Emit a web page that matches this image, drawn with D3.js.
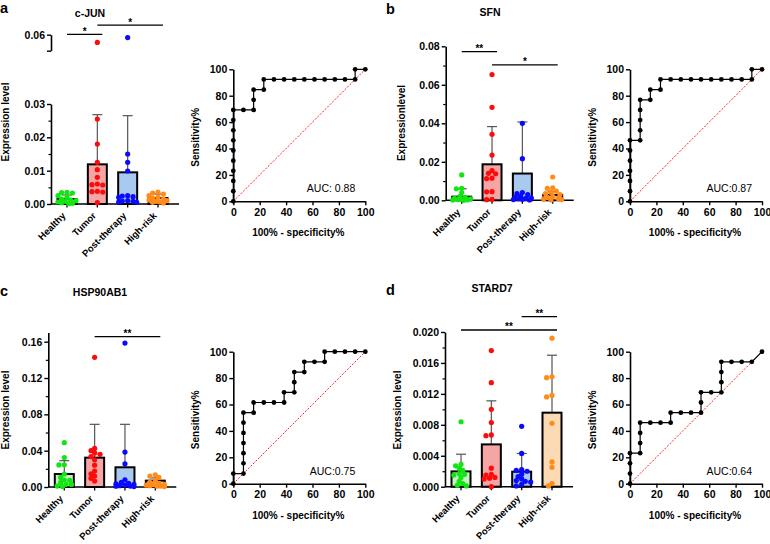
<!DOCTYPE html>
<html>
<head>
<meta charset="utf-8">
<script src="https://cdn.jsdelivr.net/npm/d3@7"></script>
<style>
  body { margin: 0; background: #fff; }
  svg { font-family: "Liberation Sans", Arial, Helvetica, sans-serif; }
  .tick text { font-weight: bold; }
</style>
</head>
<body>
<svg id="chart" width="770" height="544"></svg>
<script>
'use strict';

var groups = ['Healthy', 'Tumor', 'Post-therapy', 'High-risk'];
var dotColors = ['#12e612', '#ff0a0a', '#0a0aff', '#ff8c1a'];
var barColors = ['#c4f4c4', '#f6a5a5', '#a8c9f0', '#fcdab4'];

// a - c-JUN
var junHealthy = [0.0035, 0.0034, 0.0033, 0.0025, 0.002, 0.0015, 0.0012, 0.001, 0.0008, 0.0006, 0.0004, 0.0002, 0.0001];
var junTumor = [0.0576, 0.0255, 0.018, 0.0125, 0.0103, 0.008, 0.006, 0.0058, 0.0057, 0.0038, 0.0037, 0.0036, 0.0004];
var junPost = [0.0591, 0.015, 0.0125, 0.0099, 0.0025, 0.0024, 0.0022, 0.002, 0.001, 0.0009, 0.0008, 0.0006, 0.0005];
var junHigh = [0.0036, 0.0033, 0.003, 0.0025, 0.002, 0.0018, 0.0015, 0.0012, 0.001, 0.0008, 0.0006, 0.0005, 0.0003];
var junMean = [0.0015, 0.0119, 0.0095, 0.0018];
var junSdTop = [0.0027, 0.0268, 0.0265, 0.003];

// b - SFN
var sfnHealthy = [0.0132, 0.0062, 0.006, 0.004, 0.002, 0.0015, 0.001, 0.0008, 0.0005, 0.0003, 0.0002, 0.0001, 0];
var sfnTumor = [0.0653, 0.0483, 0.0343, 0.0235, 0.0154, 0.014, 0.0138, 0.0115, 0.0113, 0.0045, 0.0044, 0.0005, 0.0003];
var sfnPost = [0.040, 0.0216, 0.004, 0.0035, 0.003, 0.002, 0.0015, 0.0012, 0.001, 0.0008, 0.0006, 0.0004, 0.0002];
var sfnHigh = [0.0121, 0.0065, 0.0062, 0.0048, 0.0042, 0.0035, 0.003, 0.002, 0.0015, 0.001, 0.0007, 0.0004, 0.0002];
var sfnMean = [0.0019, 0.0187, 0.0139, 0.0028];
var sfnSdTop = [0.006, 0.0383, 0.0407, 0.0045];

// c - HSP90AB1
var hspHealthy = [0.0488, 0.0325, 0.0245, 0.0243, 0.0143, 0.0105, 0.0077, 0.0073, 0.005, 0.003, 0.0028, 0.001, 0.0005];
var hspTumor = [0.1428, 0.0425, 0.040, 0.0375, 0.036, 0.0335, 0.030, 0.024, 0.0175, 0.0145, 0.012, 0.0095, 0.0065];
var hspPost = [0.1585, 0.0385, 0.0255, 0.008, 0.005, 0.004, 0.0035, 0.003, 0.002, 0.0015, 0.001, 0.0008, 0.0005];
var hspHigh = [0.0135, 0.012, 0.0105, 0.007, 0.005, 0.004, 0.003, 0.0025, 0.002, 0.0015, 0.001, 0.0008, 0.0005];
var hspMean = [0.0143, 0.0323, 0.0217, 0.007];
var hspSdTop = [0.029, 0.069, 0.069, 0.010];

// d - STARD7
var stdHealthy = [0.0084, 0.0029, 0.0027, 0.0024, 0.0021, 0.0017, 0.0016, 0.0015, 0.0012, 0.0007, 0.0004, 0.0002, 0.0001];
var stdTumor = [0.0176, 0.01345, 0.0100, 0.0083, 0.0067, 0.0066, 0.0024, 0.0016, 0.0015, 0.0012, 0.0011, 0.001, 0.0];
var stdPost = [0.0078, 0.0043, 0.0022, 0.0021, 0.0020, 0.0016, 0.0013, 0.001, 0.0008, 0.0007, 0.0006, 0.0003, 0.0001];
var stdHigh = [0.0192, 0.0142, 0.0141, 0.0118, 0.0116, 0.0082, 0.0032, 0.0025, 0.0004, 0.0001];
var stdMean = [0.00198, 0.00547, 0.00194, 0.00957];
var stdSdTop = [0.0042, 0.0111, 0.0043, 0.017];

// significance lines: [from, to, y value, label]
var junSig = [['Healthy', 'Tumor', 0.0601, '*'], ['Tumor', 'High-risk', 0.0630, '*']];
var sfnSig = [['Healthy', 'Tumor', 0.0772, '**'], ['Tumor', 'High-risk', 0.0704, '*']];
var hspSig = [['Tumor', 'High-risk', 0.1655, '**']];
var stdSig = [['Healthy', 'High-risk', 0.02026, '**'], ['Post-therapy', 'High-risk', 0.02198, '**']];

// ROC curves (100% - specificity%, sensitivity%)
var rocJunX = [0, 0, 0, 0, 0, 0, 0, 0, 0, 0, 7.7, 15.4, 15.4, 15.4, 23.1, 23.1, 30.8, 38.5, 46.2, 53.8, 61.5, 69.2, 76.9, 84.6, 92.3, 92.3, 100];
var rocJunY = [0, 7.7, 15.4, 23.1, 30.8, 38.5, 46.2, 53.8, 61.5, 69.2, 69.2, 69.2, 76.9, 84.6, 84.6, 92.3, 92.3, 92.3, 92.3, 92.3, 92.3, 92.3, 92.3, 92.3, 92.3, 100, 100];
var rocSfnX = [0, 0, 0, 0, 0, 0, 0, 7.7, 7.7, 7.7, 7.7, 7.7, 15.4, 15.4, 23.1, 23.1, 30.8, 38.5, 46.2, 53.8, 61.5, 69.2, 76.9, 84.6, 92.3, 92.3, 100];
var rocSfnY = [0, 7.7, 15.4, 23.1, 30.8, 38.5, 46.2, 46.2, 53.8, 61.5, 69.2, 76.9, 76.9, 84.6, 84.6, 92.3, 92.3, 92.3, 92.3, 92.3, 92.3, 92.3, 92.3, 92.3, 92.3, 100, 100];
var rocHspX = [0, 0, 7.7, 7.7, 7.7, 7.7, 7.7, 7.7, 7.7, 15.4, 15.4, 23.1, 30.8, 38.5, 38.5, 46.2, 46.2, 46.2, 53.8, 53.8, 61.5, 69.2, 69.2, 76.9, 84.6, 92.3, 100];
var rocHspY = [0, 7.7, 7.7, 15.4, 23.1, 30.8, 38.5, 46.2, 53.8, 53.8, 61.5, 61.5, 61.5, 61.5, 69.2, 69.2, 76.9, 84.6, 84.6, 92.3, 92.3, 92.3, 100, 100, 100, 100, 100];
var rocStdX = [0, 0, 0, 0, 7.7, 7.7, 7.7, 7.7, 15.4, 23.1, 30.8, 30.8, 38.5, 46.2, 53.8, 53.8, 53.8, 61.5, 69.2, 69.2, 69.2, 69.2, 76.9, 84.6, 92.3, 100];
var rocStdY = [0, 7.7, 15.4, 23.1, 23.1, 30.8, 38.5, 46.2, 46.2, 46.2, 46.2, 53.8, 53.8, 53.8, 53.8, 61.5, 69.2, 69.2, 69.2, 76.9, 84.6, 92.3, 92.3, 92.3, 92.3, 100];

var svg = d3.select('#chart');

// simple beeswarm: keep dots within +/- 9px of the category, allow some overlap
function swarm(vals, y, cx, r) {
    var placed = [];
    var offs = [0];
    for (var k = 1; k <= 5; k++) { offs.push(-k * 1.8, k * 1.8); }
    var pts = vals.map(function (v) { return { v: v, py: y(v) }; })
        .sort(function (a, b) { return a.py - b.py; });
    pts.forEach(function (p) {
        var best = 0, bestD = -1;
        for (var i = 0; i < offs.length; i++) {
            var md = Infinity;
            placed.forEach(function (q) {
                md = Math.min(md, Math.hypot(q.px - (cx + offs[i]), q.py - p.py));
            });
            if (md >= 1.6 * r) { best = offs[i]; bestD = md; break; }
            if (md > bestD) { bestD = md; best = offs[i]; }
        }
        p.px = cx + best;
        placed.push(p);
    });
    return placed;
}

function leftAxis(g, scale, major, minor, fmt, x) {
    var ax = g.append('g').attr('transform', 'translate(' + x + ',0)')
        .call(d3.axisLeft(scale).tickValues(major).tickFormat(fmt).tickSize(4).tickSizeOuter(0));
    ax.select('.domain').attr('stroke-width', 1.6);
    ax.selectAll('.tick line').attr('stroke-width', 1.4);
    ax.selectAll('.tick text').attr('font-size', 10.5).attr('x', -6);
    if (minor.length) {
        var mx = g.append('g').attr('transform', 'translate(' + x + ',0)')
            .call(d3.axisLeft(scale).tickValues(minor).tickFormat('').tickSize(2.5).tickSizeOuter(0));
        mx.select('.domain').remove();
        mx.selectAll('.tick line').attr('stroke-width', 1.2);
    }
    return ax;
}

function barPanel(p) {
    var g = svg.append('g');
    var x = d3.scalePoint().domain(groups).range([p.axisX + 16, p.axisX + 107]);
    var y = d3.scaleLinear().domain([0, p.max]).range([p.base, p.top]);
    var yUp = p.upper ? d3.scaleLinear().domain(p.upper.domain).range(p.upper.range) : null;
    var yv = function (v) { return (yUp && v > p.upper.domain[0] - 0.005) ? yUp(v) : y(v); };

    leftAxis(g, y, p.ticks, p.minor, p.fmt, p.axisX);
    if (yUp) {
        leftAxis(g, yUp, p.upper.domain, [], function (d) { return d === p.upper.domain[1] ? p.fmt(d) : ''; }, p.axisX);
    }

    // x axis
    g.append('line').attr('x1', p.axisX).attr('x2', p.axisX + 128)
        .attr('y1', p.base).attr('y2', p.base).attr('stroke', '#000').attr('stroke-width', 1.6);
    g.selectAll('.xt').data(groups).enter().append('line')
        .attr('x1', function (d) { return x(d); }).attr('x2', function (d) { return x(d); })
        .attr('y1', p.base).attr('y2', p.base + 3.5).attr('stroke', '#000').attr('stroke-width', 1.3);
    g.selectAll('.xl').data(groups).enter().append('text')
        .attr('transform', function (d) { return 'translate(' + (x(d) - 3) + ',' + (p.base + 10) + ') rotate(-45)'; })
        .attr('text-anchor', 'end').attr('dy', '0.35em')
        .attr('font-size', 9.5).attr('font-weight', 'bold')
        .text(function (d) { return d; });

    var bw = 19;
    // error bars
    groups.forEach(function (gr, i) {
        var cx = x(gr);
        g.append('line').attr('x1', cx).attr('x2', cx).attr('y1', y(p.mean[i])).attr('y2', y(p.sdTop[i]))
            .attr('stroke', '#555').attr('stroke-width', 1.2);
        g.append('line').attr('x1', cx - 5).attr('x2', cx + 5).attr('y1', y(p.sdTop[i])).attr('y2', y(p.sdTop[i]))
            .attr('stroke', '#555').attr('stroke-width', 1.2);
    });
    g.selectAll('.bar').data(p.mean).enter().append('rect')
        .attr('x', function (d, i) { return x(groups[i]) - bw / 2; })
        .attr('y', function (d) { return y(d); })
        .attr('width', bw)
        .attr('height', function (d) { return p.base - y(d); })
        .attr('fill', function (d, i) { return barColors[i]; })
        .attr('stroke', '#000').attr('stroke-width', 2);

    p.values.forEach(function (vals, i) {
        var pts = swarm(vals, yv, x(groups[i]), 2.6);
        g.selectAll('.dot' + i).data(pts).enter().append('circle')
            .attr('cx', function (d) { return d.px; })
            .attr('cy', function (d) { return d.py; })
            .attr('r', 2.6)
            .attr('fill', dotColors[i]);
    });

    // significance
    p.sig.forEach(function (s) {
        var x1 = x(s[0]), x2 = x(s[1]) + 5, yy = yv(s[2]);
        g.append('line').attr('x1', x1).attr('x2', x2).attr('y1', yy).attr('y2', yy)
            .attr('stroke', '#000').attr('stroke-width', 1.3);
        g.append('text').attr('x', (x1 + x2) / 2).attr('y', yy + 0.5).attr('text-anchor', 'middle')
            .attr('font-size', 10).attr('font-weight', 'bold').text(s[3]);
    });

    g.append('text').attr('x', p.titleX).attr('y', p.titleY).attr('text-anchor', 'middle')
        .attr('font-size', 10.5).attr('font-weight', 'bold').text(p.title);
    g.append('text').attr('transform', 'translate(' + p.labelX + ',' + p.labelY + ') rotate(-90)')
        .attr('text-anchor', 'middle').attr('dy', '0.35em')
        .attr('font-size', 10).attr('font-weight', 'bold').text(p.ylabel);
    g.append('text').attr('x', p.letterX).attr('y', p.letterY)
        .attr('font-size', 14.5).attr('font-weight', 'bold').text(p.letter);
}

function rocPanel(p) {
    var g = svg.append('g');
    var w = 132;
    var x = d3.scaleLinear().domain([0, 100]).range([p.x0, p.x0 + w]);
    var y = d3.scaleLinear().domain([0, 100]).range([p.y0 + w, p.y0]);

    var ax = g.append('g').attr('transform', 'translate(0,' + (p.y0 + w) + ')')
        .call(d3.axisBottom(x).tickValues([0, 20, 40, 60, 80, 100]).tickSize(4).tickSizeOuter(0));
    var ay = g.append('g').attr('transform', 'translate(' + p.x0 + ',0)')
        .call(d3.axisLeft(y).tickValues([0, 20, 40, 60, 80, 100]).tickSize(4).tickSizeOuter(0));
    [ax, ay].forEach(function (a) {
        a.select('.domain').attr('stroke-width', 1.6);
        a.selectAll('.tick line').attr('stroke-width', 1.4);
        a.selectAll('.tick text').attr('font-size', 10.5);
    });
    ax.selectAll('.tick text').attr('y', 7);
    ay.selectAll('.tick text').attr('x', -6);

    g.append('line').attr('x1', x(0)).attr('y1', y(0)).attr('x2', x(100)).attr('y2', y(100))
        .attr('stroke', '#ff2020').attr('stroke-width', 1).attr('stroke-dasharray', '2,1.5');

    var pts = p.xs.map(function (v, i) { return [v, p.ys[i]]; });
    g.append('path').datum(pts)
        .attr('d', d3.line().x(function (d) { return x(d[0]); }).y(function (d) { return y(d[1]); }))
        .attr('fill', 'none').attr('stroke', '#000').attr('stroke-width', 1.2);
    g.selectAll('.rp').data(pts).enter().append('circle')
        .attr('cx', function (d) { return x(d[0]); })
        .attr('cy', function (d) { return y(d[1]); })
        .attr('r', 2.4).attr('fill', '#000');

    g.append('text').attr('x', p.x0 + w - 10).attr('y', p.y0 + w - 9).attr('text-anchor', 'end')
        .attr('font-size', 10.5).text(p.auc);
    g.append('text').attr('x', p.x0 + w / 2 - 1).attr('y', p.y0 + w + 35).attr('text-anchor', 'middle')
        .attr('font-size', 10).attr('font-weight', 'bold').text('100% - specificity%');
    g.append('text').attr('transform', 'translate(' + (p.x0 - 38) + ',' + (p.y0 + w / 2 + 2) + ') rotate(-90)')
        .attr('text-anchor', 'middle').attr('dy', '0.35em')
        .attr('font-size', 10).attr('font-weight', 'bold').text('Sensitivity%');
}

var f2 = d3.format('.2f'), f3 = d3.format('.3f');

barPanel({
    letter: 'a', letterX: 0, letterY: 13, title: 'c-JUN', titleX: 90, titleY: 17,
    ylabel: 'Expression level', labelX: 5.5, labelY: 122,
    axisX: 51, base: 204, top: 104, max: 0.03,
    ticks: [0, 0.01, 0.02, 0.03], minor: [0.005, 0.015, 0.025], fmt: f2,
    upper: { domain: [0.055, 0.06], range: [50.7, 34.7] },
    values: [junHealthy, junTumor, junPost, junHigh], mean: junMean, sdTop: junSdTop, sig: junSig
});
barPanel({
    letter: 'b', letterX: 386, letterY: 13.5, title: 'SFN', titleX: 490, titleY: 16,
    ylabel: 'Expressionlevel', labelX: 401.5, labelY: 123,
    axisX: 445.7, base: 200.3, top: 46.3, max: 0.08,
    ticks: [0, 0.02, 0.04, 0.06, 0.08], minor: [0.01, 0.03, 0.05, 0.07], fmt: f2,
    values: [sfnHealthy, sfnTumor, sfnPost, sfnHigh], mean: sfnMean, sdTop: sfnSdTop, sig: sfnSig
});
barPanel({
    letter: 'c', letterX: 0, letterY: 296, title: 'HSP90AB1', titleX: 100, titleY: 296,
    ylabel: 'Expression level', labelX: 5.5, labelY: 410,
    axisX: 48.3, base: 487, top: 332.6, max: 0.17,
    ticks: [0, 0.04, 0.08, 0.12, 0.16], minor: [0.02, 0.06, 0.10, 0.14], fmt: f2,
    values: [hspHealthy, hspTumor, hspPost, hspHigh], mean: hspMean, sdTop: hspSdTop, sig: hspSig
});
barPanel({
    letter: 'd', letterX: 386, letterY: 295, title: 'STARD7', titleX: 492, titleY: 292,
    ylabel: 'Expression level', labelX: 397.5, labelY: 410,
    axisX: 445, base: 486.7, top: 332, max: 0.02,
    ticks: [0, 0.004, 0.008, 0.012, 0.016, 0.020], minor: [0.002, 0.006, 0.010, 0.014, 0.018], fmt: f3,
    values: [stdHealthy, stdTumor, stdPost, stdHigh], mean: stdMean, sdTop: stdSdTop, sig: stdSig
});

rocPanel({ x0: 233.3, y0: 69.3, xs: rocJunX, ys: rocJunY, auc: 'AUC: 0.88' });
rocPanel({ x0: 630, y0: 69.3, xs: rocSfnX, ys: rocSfnY, auc: 'AUC:0.87' });
rocPanel({ x0: 233.3, y0: 351.7, xs: rocHspX, ys: rocHspY, auc: 'AUC:0.75' });
rocPanel({ x0: 630, y0: 351.7, xs: rocStdX, ys: rocStdY, auc: 'AUC:0.64' });
</script>
</body>
</html>
